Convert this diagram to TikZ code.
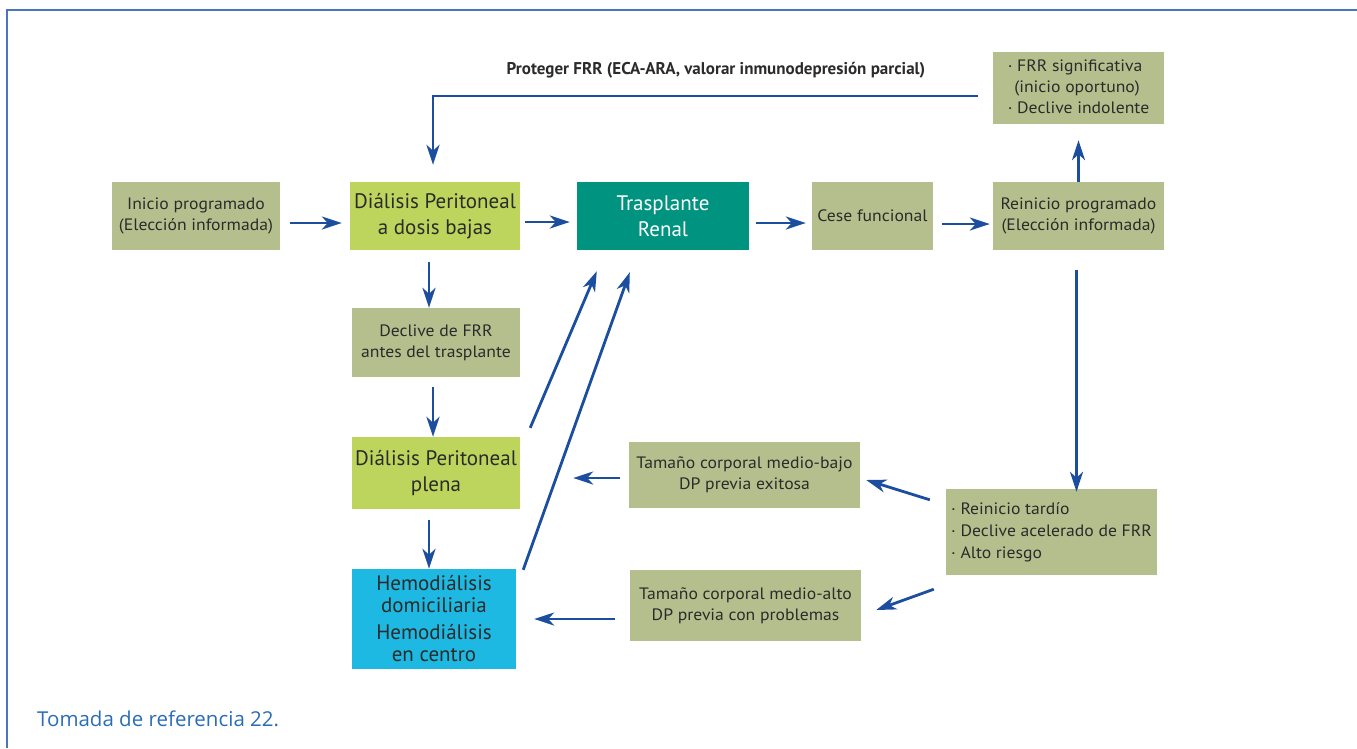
\documentclass[tikz,border=0pt]{standalone}
\usepackage{fontspec}
\usetikzlibrary{arrows.meta}
\newfontfamily\boxf{PT Sans}
\newfontfamily\smallf[FakeStretch=1.07]{PT Sans}
\newfontfamily\capf{Open Sans}
\definecolor{olivebox}{HTML}{B5BF8D}
\definecolor{limebox}{HTML}{BDD55C}
\definecolor{tealbox}{HTML}{00937F}
\definecolor{cyanbox}{HTML}{1DB9E2}
\definecolor{arrblue}{HTML}{1B4E9E}
\definecolor{capblue}{HTML}{2A6DB5}
\definecolor{framec}{HTML}{4A76BD}
\definecolor{txt}{HTML}{2B2B2B}
\tikzset{
  box/.style={draw=none, inner sep=2pt, align=center, text=txt},
  small/.style={font=\smallf\fontsize{16.5}{21}\selectfont},
  big/.style={font=\boxf\fontsize{21}{26}\selectfont},
  arr/.style={draw=arrblue, line width=2.8pt, -{Stealth[length=20pt,width=13pt,inset=6pt]}}
}
\begin{document}
\begin{tikzpicture}[x=1pt,y=-1pt]
\useasboundingbox (0,0) rectangle (1357,748);
\draw[framec, line width=1.3pt] (1357,10) -- (7,10) -- (7,748);
% nodes
\node[box, small, fill=olivebox, minimum width=168pt, minimum height=68pt] (inicio) at (196,216) {Inicio programado\\(Elección informada)};
\node[box, big, fill=limebox, minimum width=170pt, minimum height=68pt] (dpb) at (435,216) {Diálisis Peritoneal\\a dosis bajas};
\node[box, big, fill=tealbox, text=white, minimum width=172pt, minimum height=68pt] (tr) at (663,216) {Trasplante\\Renal};
\node[box, small, fill=olivebox, minimum width=121pt, minimum height=68pt] (cese) at (872.5,216) {Cese funcional};
\node[box, small, fill=olivebox, minimum width=171pt, minimum height=68pt] (rein) at (1078.5,216) {Reinicio programado\\(Elección informada)};
\node[box, font=\smallf\fontsize{16.5}{21}\selectfont, fill=olivebox, minimum width=171pt, minimum height=72pt] (frr) at (1078.5,88) {\begin{tabular}{@{}l@{}}· FRR significativa\\\hspace{0.4em}(inicio oportuno)\\· Declive indolente\end{tabular}};
\node[box, small, fill=olivebox, minimum width=168pt, minimum height=69pt] (decl) at (436,342.5) {Declive de FRR\\antes del trasplante};
\node[box, big, fill=limebox, minimum width=168pt, minimum height=72pt] (dpp) at (436,473) {Diálisis Peritoneal\\plena};
\node[box, font=\boxf\fontsize{21}{22}\selectfont, fill=cyanbox, minimum width=164pt, minimum height=100pt] (hemo) at (434,619) {Hemodiálisis\\domiciliaria\\[5pt]Hemodiálisis\\en centro};
\node[box, small, fill=olivebox, minimum width=231pt, minimum height=66pt] (mbajo) at (744.5,475) {Tamaño corporal medio-bajo\\DP previa exitosa};
\node[box, small, fill=olivebox, minimum width=231pt, minimum height=71pt] (malto) at (745.5,605.5) {Tamaño corporal medio-alto\\DP previa con problemas};
\node[box, font=\smallf\fontsize{16.5}{22}\selectfont, fill=olivebox, minimum width=211pt, minimum height=86pt] (tardio) at (1051.5,532) {\begin{tabular}{@{}l@{}}· Reinicio tardío\\· Declive acelerado de FRR\\· Alto riesgo\end{tabular}};
\node[text=txt, font=\boxf\bfseries\fontsize{17}{20}\selectfont] (lbl) at (716,70) {Proteger FRR (ECA-ARA, valorar inmunodepresión parcial)};
\node[text=capblue, font=\capf\fontsize{20.5}{24}\selectfont, anchor=west, inner sep=0pt] (cap) at (37,719) {Tomada de referencia 22.};
% connectors
\draw[arr, shorten <=10pt, shorten >=8pt] ([yshift=-7pt]inicio.east) -- ([yshift=-7pt]dpb.west);
\draw[arr, shorten <=5pt, shorten >=7pt] ([yshift=-6pt]dpb.east) -- ([yshift=-6pt]tr.west);
\draw[arr, shorten <=7pt, shorten >=6pt] ([yshift=-7pt]tr.east) -- ([yshift=-7pt]cese.west);
\draw[arr, shorten <=9pt, shorten >=3pt] ([yshift=-8pt]cese.east) -- ([yshift=-8pt]rein.west);
\draw[arr, shorten >=16pt] (rein.north) -- (frr.south);
\draw[arr, shorten >=17pt] ([xshift=-15pt,yshift=-8pt]frr.west) -| ([xshift=-2pt]dpb.north);
\draw[arr, shorten <=12pt] ([xshift=-6pt]dpb.south) -- ([xshift=-7pt]decl.north);
\draw[arr, shorten <=10pt] ([xshift=-3pt]decl.south) -- ([xshift=-3pt]dpp.north);
\draw[arr, shorten <=11pt] ([xshift=-7pt]dpp.south) -- ([xshift=-5pt]hemo.north);
\draw[arr] ([xshift=10pt,yshift=9pt]dpp.north east) -- ([xshift=20pt,yshift=-21pt]tr.south west);
\draw[arr] ([xshift=7pt,yshift=-1pt]hemo.north east) -- ([xshift=53pt,yshift=-22pt]tr.south west);
\draw[arr, shorten <=20pt, shorten >=-3pt] ([xshift=-2pt]rein.south) -- ([xshift=-2pt]rein.south |- tardio.north);
\draw[arr] ([xshift=-16pt,yshift=-11pt]tardio.north west) -- ([xshift=6pt,yshift=-5pt]mbajo.east);
\draw[arr] ([xshift=-12pt,yshift=-14pt]tardio.south west) -- ([xshift=15pt,yshift=-4.5pt]malto.east);
\draw[arr, shorten <=9pt, shorten >=53pt] ([yshift=-3pt]mbajo.west) -- ([yshift=-3pt]mbajo.west -| dpp.east);
\draw[arr, shorten <=15pt, shorten >=18pt] (malto.west |- hemo.east) -- (hemo.east);
\end{tikzpicture}
\end{document}
